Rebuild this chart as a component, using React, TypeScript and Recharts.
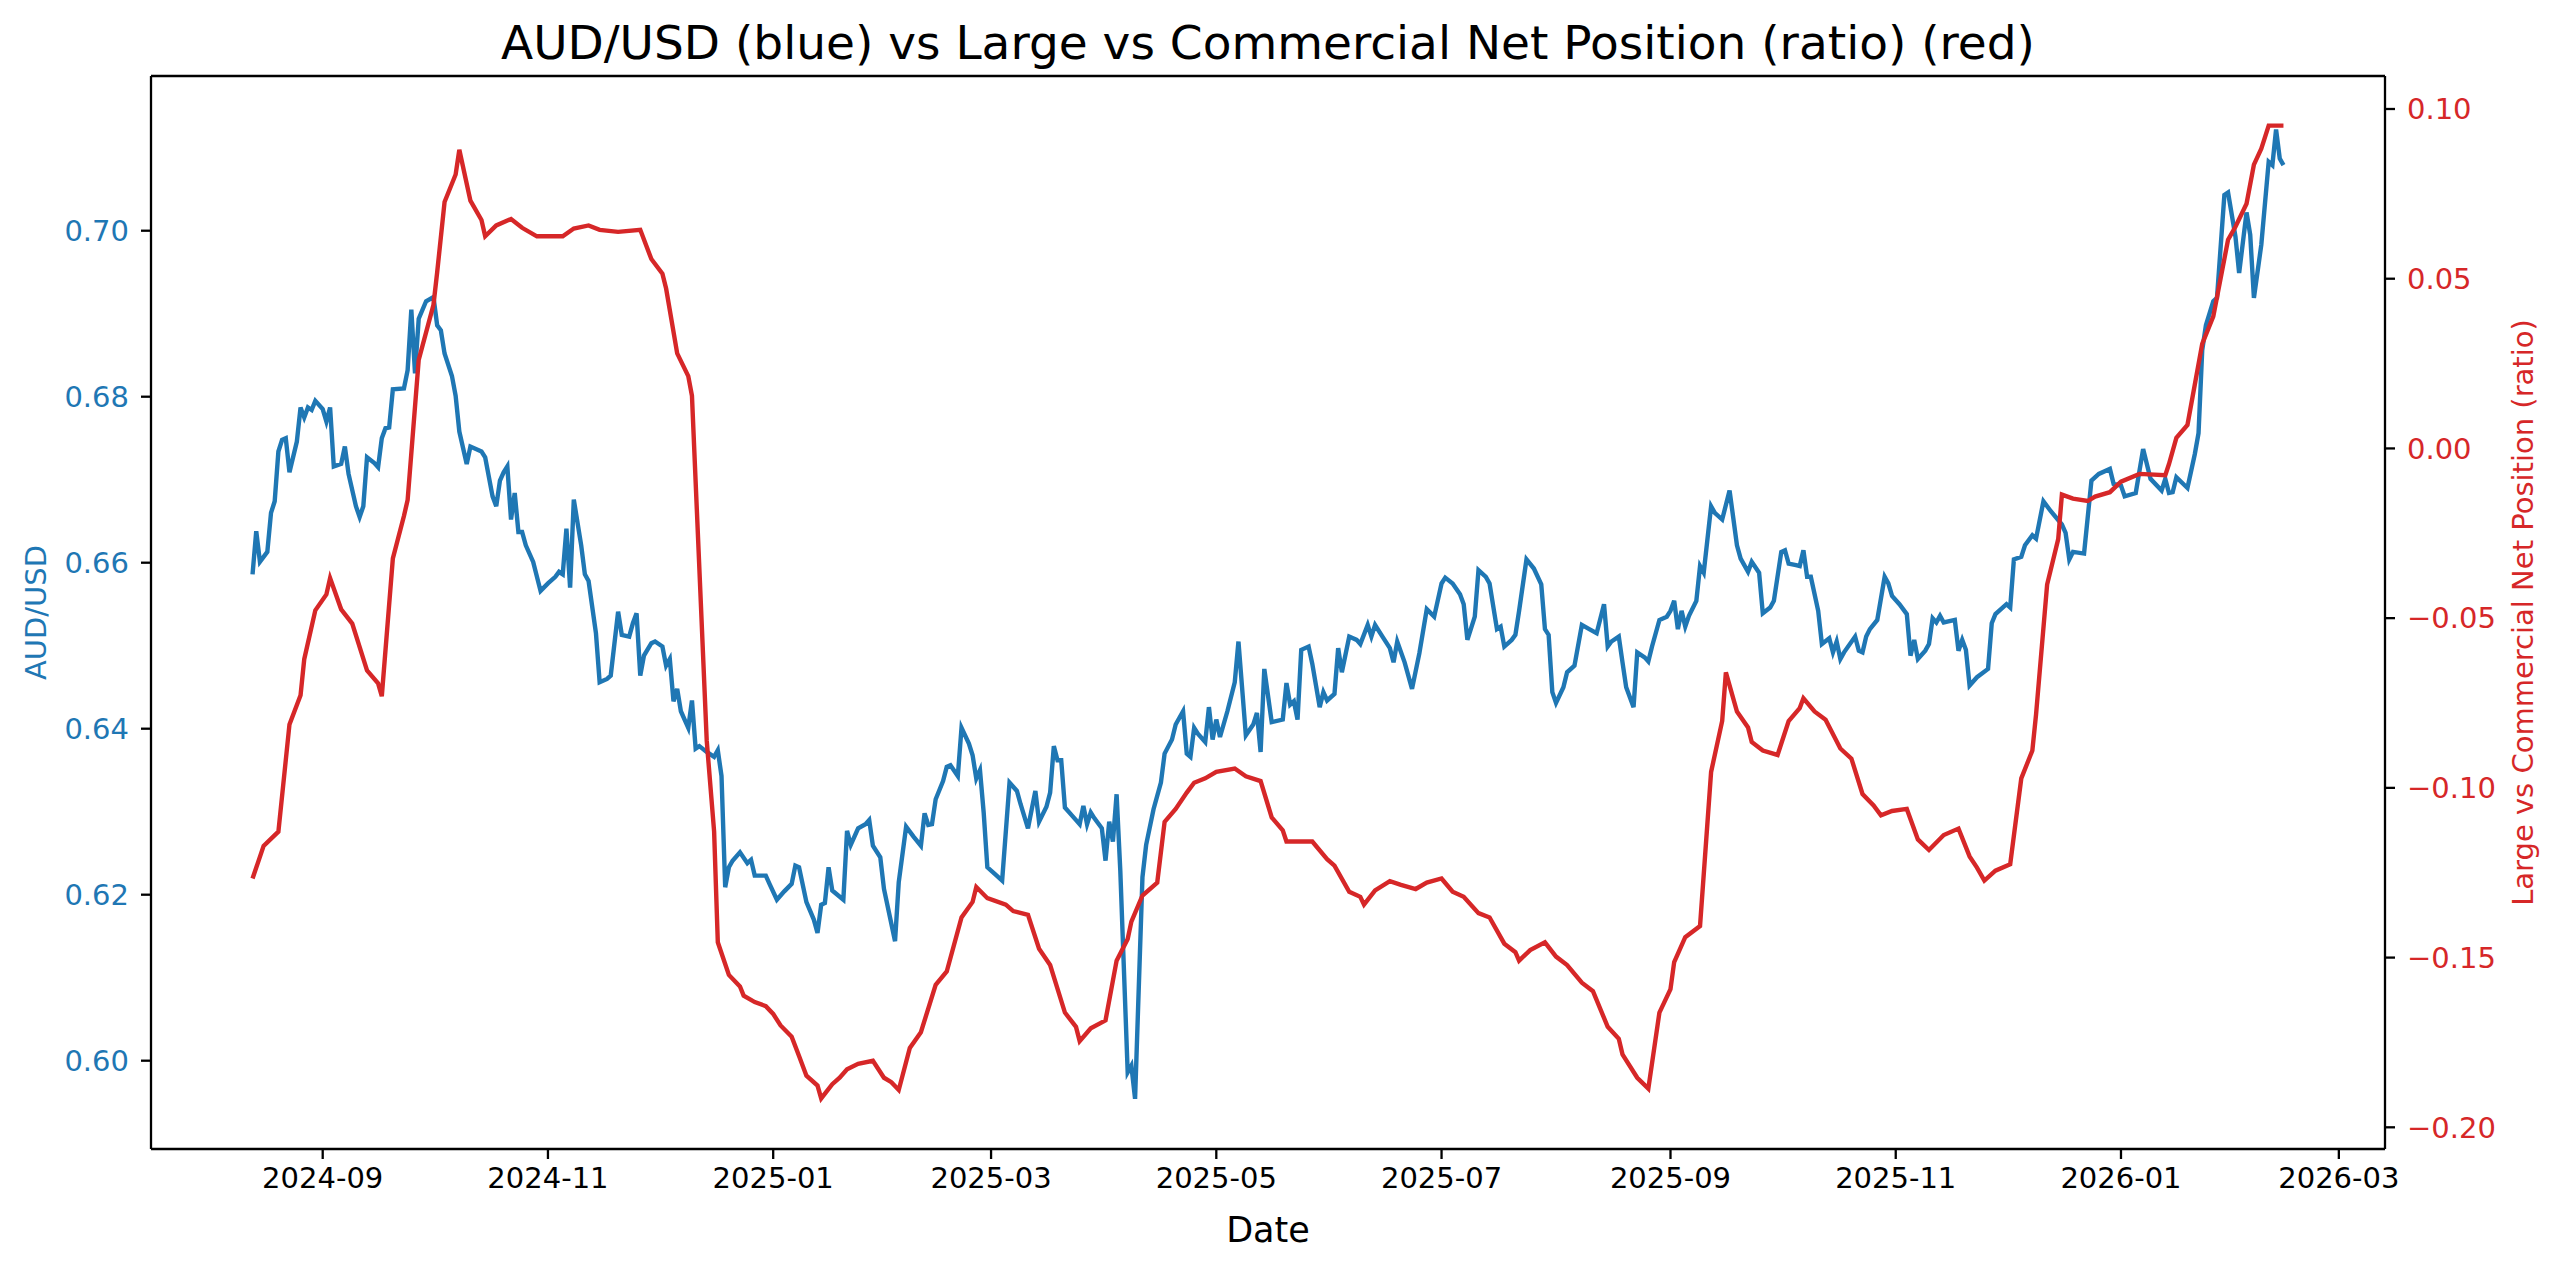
import { LineChart, Line, XAxis, YAxis, ReferenceLine } from "recharts";

// day offsets from the first observation (2024-08-13)
const BASE_DATE = "2024-08-13";

const audDays = [
  0, 1, 2, 4, 5, 6, 7, 8, 9, 10, 12, 13, 14, 15, 16, 17, 19, 20, 21, 22, 24, 25, 26, 28, 29, 30, 31, 33, 34, 35,
  36, 37, 38, 41, 42, 43, 44, 45, 47, 49, 50, 51, 52, 54, 55, 56, 58, 59, 62, 63, 65, 66, 67, 68, 69, 70, 71, 72,
  73, 74, 76, 78, 80, 82, 83, 84, 85, 86, 87, 89, 90, 91, 93, 94, 96, 97, 99, 100, 102, 103, 104, 105, 106, 108,
  109, 111, 112, 113, 114, 115, 116, 118, 119, 120, 121, 123, 125, 126, 127, 128, 129, 130, 132, 134, 135, 136,
  139, 140, 142, 144, 146, 147, 148, 150, 152, 153, 154, 155, 156, 157, 160, 161, 162, 164, 166, 167, 168, 170,
  171, 174, 175, 177, 179, 181, 182, 183, 184, 185, 187, 188, 189, 191, 192, 194, 195, 196, 197, 198, 199, 201,
  203, 205, 207, 208, 210, 212, 213, 215, 216, 217, 218, 219, 220, 222, 224, 225, 226, 227, 228, 230, 231, 232,
  233, 234, 235, 237, 238, 239, 241, 242, 244, 246, 247, 249, 250, 252, 253, 254, 255, 256, 258, 259, 260, 261,
  262, 264, 266, 267, 269, 271, 272, 273, 274, 276, 279, 280, 281, 282, 283, 284, 286, 287, 289, 290, 291, 293,
  294, 295, 297, 299, 300, 302, 303, 304, 306, 308, 309, 310, 312, 314, 316, 318, 320, 322, 323, 325, 327, 328,
  329, 331, 332, 334, 335, 337, 338, 339, 341, 342, 343, 345, 347, 349, 350, 351, 352, 353, 355, 356, 358, 360,
  362, 364, 366, 367, 368, 370, 371, 372, 374, 375, 377, 378, 379, 381, 383, 384, 385, 386, 387, 388, 389, 391,
  392, 393, 395, 396, 398, 400, 402, 403, 405, 406, 408, 409, 411, 412, 414, 415, 416, 418, 419, 420, 421, 422,
  424, 425, 427, 428, 429, 430, 431, 434, 435, 436, 437, 438, 440, 442, 443, 444, 446, 448, 449, 450, 451, 453,
  454, 455, 456, 457, 458, 461, 462, 463, 464, 465, 467, 470, 471, 472, 475, 476, 477, 479, 480, 482, 483, 485,
  487, 490, 491, 492, 493, 496, 498, 500, 503, 504, 506, 507, 510, 512, 514, 517, 518, 519, 520, 521, 524, 526,
  527, 528, 529, 531, 532, 534, 535, 537, 538, 540, 541, 542, 544, 546, 547, 548, 549, 550,
];

const audUsd = [
  0.6586, 0.6638, 0.6601, 0.6613, 0.666, 0.6674, 0.6734, 0.6748, 0.675, 0.6709, 0.6746, 0.6787, 0.6775, 0.6787,
  0.6784, 0.6795, 0.6785, 0.677, 0.6787, 0.6716, 0.6719, 0.674, 0.6707, 0.6668, 0.6655, 0.6668, 0.6727, 0.672,
  0.6715, 0.675, 0.6762, 0.6763, 0.6809, 0.681, 0.6832, 0.6905, 0.6828, 0.6894, 0.6915, 0.692, 0.6886, 0.688,
  0.6852, 0.6825, 0.6801, 0.6758, 0.6719, 0.674, 0.6734, 0.6727, 0.668, 0.6668, 0.6699, 0.6709, 0.6716, 0.6652,
  0.6684, 0.6637, 0.6637, 0.6621, 0.6601, 0.6566, 0.6575, 0.6583, 0.6589, 0.6586, 0.6641, 0.657, 0.6676, 0.6621,
  0.6586, 0.6578, 0.6515, 0.6456, 0.646, 0.6464, 0.6541, 0.6513, 0.6511, 0.6527, 0.6539, 0.6464, 0.6488, 0.6503,
  0.6505, 0.6499, 0.6476, 0.6484, 0.6433, 0.6448, 0.6421, 0.6401, 0.6434, 0.6376, 0.6379, 0.6372, 0.6366, 0.6374,
  0.6343, 0.6209, 0.6233, 0.6241, 0.6251, 0.6238, 0.6242, 0.6223, 0.6223, 0.6213, 0.6194, 0.6204, 0.6213, 0.6235,
  0.6233, 0.6191, 0.617, 0.6154, 0.6188, 0.619, 0.6233, 0.6205, 0.6194, 0.6277, 0.626, 0.628, 0.6285, 0.629,
  0.6259, 0.6245, 0.6207, 0.6144, 0.6215, 0.6282, 0.627, 0.6259, 0.6298, 0.6284, 0.6285, 0.6315, 0.6337, 0.6354,
  0.6356, 0.6343, 0.6401, 0.6382, 0.6368, 0.634, 0.635, 0.6299, 0.6233, 0.6225, 0.6217, 0.6335, 0.6325, 0.6309,
  0.628, 0.6325, 0.6288, 0.6306, 0.6323, 0.6379, 0.6362, 0.6362, 0.6305, 0.6295, 0.6285, 0.6307, 0.6285, 0.6299,
  0.6292, 0.628, 0.6241, 0.6288, 0.6264, 0.6321, 0.6229, 0.5986, 0.5994, 0.5954, 0.6221, 0.626, 0.6303, 0.6335,
  0.637, 0.6387, 0.6405, 0.6421, 0.637, 0.6366, 0.6401, 0.6394, 0.6384, 0.6426, 0.6387, 0.6411, 0.639, 0.6421,
  0.6456, 0.6505, 0.6392, 0.6405, 0.6419, 0.6372, 0.6472, 0.6408, 0.6411, 0.6455, 0.6429, 0.6433, 0.6411, 0.6495,
  0.6499, 0.6478, 0.6426, 0.6444, 0.6434, 0.6442, 0.6497, 0.6468, 0.6511, 0.6507, 0.6502, 0.6525, 0.6511, 0.6525,
  0.6511, 0.6497, 0.648, 0.6505, 0.648, 0.6448, 0.6491, 0.6544, 0.6535, 0.6575, 0.6582, 0.6575, 0.6562, 0.655,
  0.6507, 0.6535, 0.6591, 0.6583, 0.6575, 0.652, 0.6523, 0.6499, 0.6507, 0.6513, 0.6542, 0.6604, 0.6593, 0.6574,
  0.652, 0.6513, 0.6444, 0.6431, 0.645, 0.6468, 0.6476, 0.6525, 0.652, 0.6515, 0.655, 0.6499, 0.6505, 0.6511,
  0.648, 0.645, 0.6426, 0.6492, 0.6486, 0.6481, 0.6499, 0.6531, 0.6535, 0.6542, 0.6554, 0.652, 0.6542, 0.6523,
  0.6536, 0.6554, 0.6596, 0.6588, 0.6668, 0.666, 0.6652, 0.6687, 0.6621, 0.6605, 0.6589, 0.6601, 0.6588, 0.6539,
  0.6546, 0.6554, 0.6613, 0.6615, 0.6599, 0.6597, 0.6596, 0.6615, 0.6583, 0.6583, 0.6542, 0.6502, 0.6509, 0.6492,
  0.6505, 0.6484, 0.6492, 0.6511, 0.6494, 0.6492, 0.6511, 0.652, 0.6531, 0.6583, 0.6575, 0.656, 0.655, 0.6538,
  0.6488, 0.6507, 0.6484, 0.6494, 0.6502, 0.6533, 0.6528, 0.6536, 0.6528, 0.6531, 0.6494, 0.6507, 0.6495, 0.6452,
  0.6462, 0.6472, 0.6527, 0.6538, 0.655, 0.6546, 0.6604, 0.6607, 0.6621, 0.6633, 0.6629, 0.6674, 0.6662, 0.6646,
  0.6636, 0.6604, 0.6613, 0.6611, 0.6699, 0.6707, 0.6713, 0.6695, 0.6693, 0.668, 0.6684, 0.6737, 0.6701, 0.6687,
  0.6701, 0.6684, 0.6685, 0.6703, 0.669, 0.6731, 0.6756, 0.6856, 0.6886, 0.6915, 0.6919, 0.7043, 0.7046, 0.6993,
  0.6949, 0.7022, 0.6995, 0.6919, 0.6983, 0.7083, 0.7079, 0.7122, 0.7087, 0.7079,
];

const cotDays = [
  0, 3, 7, 10, 13, 14, 17, 20, 21, 24, 27, 31, 34, 35, 38, 41, 42, 45, 49, 50, 52, 55, 56, 59, 62, 63, 66, 70, 73,
  77, 84, 87, 91, 94, 99, 105, 108, 111, 112, 115, 118, 119, 123, 125, 126, 129, 132, 133, 136, 139, 141, 143, 146,
  148, 150, 153, 154, 157, 159, 161, 164, 168, 171, 173, 175, 178, 181, 185, 188, 192, 195, 196, 199, 204, 206,
  210, 213, 216, 220, 223, 224, 227, 231, 234, 237, 238, 241, 245, 247, 250, 253, 255, 258, 261, 266, 269, 273,
  276, 279, 280, 287, 291, 293, 297, 300, 301, 304, 308, 311, 315, 318, 322, 325, 328, 332, 335, 339, 342, 343,
  346, 350, 353, 356, 360, 363, 367, 370, 371, 375, 378, 381, 384, 385, 388, 392, 395, 398, 399, 402, 405, 406,
  409, 413, 416, 419, 420, 423, 426, 430, 433, 436, 439, 441, 444, 448, 451, 454, 458, 462, 465, 467, 469, 472,
  476, 479, 482, 483, 486, 489, 490, 493, 497, 499, 503, 506, 511, 518, 519, 521, 524, 528, 531, 535, 537, 540,
  542, 544, 546, 550,
];

const cotRatio = [
  -0.1267, -0.1171, -0.1129, -0.0813, -0.0727, -0.0621, -0.0477, -0.043, -0.0382, -0.0474, -0.0516, -0.0654,
  -0.0692, -0.073, -0.0324, -0.0199, -0.0152, 0.0261, 0.0423, 0.0519, 0.0726, 0.0807, 0.088, 0.073, 0.0673,
  0.0625, 0.0657, 0.0676, 0.065, 0.0625, 0.0625, 0.0648, 0.0657, 0.0644, 0.0638, 0.0644, 0.0558, 0.0515, 0.0471,
  0.028, 0.0213, 0.0155, -0.0861, -0.1129, -0.1455, -0.1551, -0.1585, -0.1612, -0.1631, -0.1643, -0.1666, -0.17,
  -0.1733, -0.179, -0.1848, -0.1877, -0.1915, -0.1873, -0.1854, -0.1829, -0.1813, -0.1804, -0.1854, -0.1867,
  -0.189, -0.1766, -0.172, -0.158, -0.1541, -0.1382, -0.1336, -0.1292, -0.1325, -0.1344, -0.1363, -0.1374, -0.1474,
  -0.1522, -0.1662, -0.1704, -0.1746, -0.1708, -0.1685, -0.1509, -0.1445, -0.1394, -0.1317, -0.1279, -0.11,
  -0.1062, -0.1014, -0.0985, -0.0972, -0.0953, -0.0943, -0.0966, -0.098, -0.1087, -0.1125, -0.1158, -0.1158,
  -0.121, -0.1229, -0.1306, -0.1321, -0.1344, -0.1302, -0.1275, -0.1286, -0.1298, -0.1279, -0.1267, -0.1306,
  -0.1321, -0.1369, -0.1382, -0.1459, -0.1484, -0.1509, -0.1478, -0.1455, -0.1497, -0.1522, -0.1574, -0.1599,
  -0.1704, -0.1739, -0.1785, -0.1854, -0.1886, -0.1662, -0.1593, -0.1513, -0.144, -0.1407, -0.0953, -0.0803,
  -0.066, -0.0775, -0.0822, -0.0865, -0.089, -0.0903, -0.0803, -0.0765, -0.0736, -0.0775, -0.0799, -0.0884,
  -0.0914, -0.1018, -0.1052, -0.1081, -0.1068, -0.1062, -0.1152, -0.1183, -0.1139, -0.112, -0.1202, -0.1235,
  -0.1273, -0.1244, -0.1225, -0.0972, -0.089, -0.0784, -0.0401, -0.0267, -0.0136, -0.0148, -0.0155, -0.0142,
  -0.0129, -0.0098, -0.0075, -0.0079, -0.0046, 0.0031, 0.0069, 0.0308, 0.0389, 0.0615, 0.0653, 0.0721, 0.0836,
  0.0883, 0.0951, 0.0951,
];

const monthTicks = [
  "2024-09", "2024-11", "2025-01", "2025-03", "2025-05", "2025-07", "2025-09", "2025-11", "2026-01", "2026-03",
];
const audTicks = [0.6, 0.62, 0.64, 0.66, 0.68, 0.7];
const cotTicks = [-0.2, -0.15, -0.1, -0.05, 0.0, 0.05, 0.1];

const audDomain = [0.58936, 0.71864];
const cotDomain = [-0.20639, 0.10972];

const BLUE = "#1f77b4";
const RED = "#d62728";
const FONT = "DejaVu Sans";
const DAY_MS = 86400000;

const baseMs = Date.parse(BASE_DATE + "T00:00:00Z");
const monthOffset = (m: string) => {
  const [y, mo] = m.split("-").map(Number);
  return (Date.UTC(y, mo - 1, 1) - baseMs) / DAY_MS;
};
const tickDays = monthTicks.map(monthOffset);
const tickLabel = (d: number) => {
  const idx = tickDays.indexOf(d);
  return idx >= 0 ? monthTicks[idx] : "";
};

const first = audDays[0];
const last = audDays[audDays.length - 1];
const span = last - first;
const xDomain = [first - 0.05 * span, last + 0.05 * span];

const audData = audDays.map((d, i) => ({ day: d, value: audUsd[i] }));
const cotData = cotDays.map((d, i) => ({ day: d, value: cotRatio[i] }));

const minus = (v: number) => (v < 0 ? "\u2212" + Math.abs(v).toFixed(2) : v.toFixed(2));

const W = 2560;
const H = 1268;
const LEFT_W = 151;
const RIGHT_W = 175;
const TOP = 76;
const X_H = 119;
const plotCx = (LEFT_W + (W - RIGHT_W)) / 2;
const plotCy = (TOP + (H - X_H)) / 2;

export default function App() {
  return (
    <div style={{ position: "absolute", left: 0, top: 0, width: W, height: H, background: "#fff" }}>
      <LineChart width={W} height={H} margin={{ top: TOP, right: 0, bottom: 0, left: 0 }}>
        <XAxis
          xAxisId="date"
          type="number"
          dataKey="day"
          domain={xDomain}
          allowDataOverflow
          ticks={tickDays}
          interval={0}
          tickFormatter={tickLabel}
          height={X_H}
          tickSize={10}
          tickMargin={8}
          tick={{ fontSize: 29, fill: "#000", fontFamily: FONT }}
          tickLine={{ stroke: "#000", strokeWidth: 2.3 }}
          axisLine={{ stroke: "#000", strokeWidth: 2.3 }}
        />
        <YAxis
          yAxisId="aud"
          orientation="left"
          width={LEFT_W}
          domain={audDomain}
          allowDataOverflow
          ticks={audTicks}
          interval={0}
          tickFormatter={(v: number) => v.toFixed(2)}
          tickSize={10}
          tickMargin={12}
          tick={{ fontSize: 29, fill: BLUE, fontFamily: FONT }}
          tickLine={{ stroke: "#000", strokeWidth: 2.3 }}
          axisLine={{ stroke: "#000", strokeWidth: 2.3 }}
        />
        <YAxis
          yAxisId="cot"
          orientation="right"
          width={RIGHT_W}
          domain={cotDomain}
          allowDataOverflow
          ticks={cotTicks}
          interval={0}
          tickFormatter={minus}
          tickSize={10}
          tickMargin={12}
          tick={{ fontSize: 29, fill: RED, fontFamily: FONT }}
          tickLine={{ stroke: "#000", strokeWidth: 2.3 }}
          axisLine={{ stroke: "#000", strokeWidth: 2.3 }}
        />
        <ReferenceLine
          xAxisId="date"
          yAxisId="aud"
          y={audDomain[1]}
          stroke="#000"
          strokeWidth={2.3}
        />
        <Line
          xAxisId="date"
          yAxisId="aud"
          data={audData}
          dataKey="value"
          type="linear"
          stroke={BLUE}
          strokeWidth={4.4}
          dot={false}
          isAnimationActive={false}
        />
        <Line
          xAxisId="date"
          yAxisId="cot"
          data={cotData}
          dataKey="value"
          type="linear"
          stroke={RED}
          strokeWidth={4.4}
          dot={false}
          isAnimationActive={false}
        />
      </LineChart>
      <svg
        width={W}
        height={H}
        style={{ position: "absolute", left: 0, top: 0, pointerEvents: "none" }}
      >
        <text x={plotCx} y={59} textAnchor="middle" fontSize={47} fontFamily={FONT} fill="#000">
          AUD/USD (blue) vs Large vs Commercial Net Position (ratio) (red)
        </text>
        <text x={plotCx} y={1242} textAnchor="middle" fontSize={35} fontFamily={FONT} fill="#000">
          Date
        </text>
        <text
          x={36}
          y={plotCy}
          textAnchor="middle"
          dominantBaseline="central"
          fontSize={29}
          fontFamily={FONT}
          fill={BLUE}
          transform={`rotate(-90 36 ${plotCy})`}
        >
          AUD/USD
        </text>
        <text
          x={2523}
          y={plotCy}
          textAnchor="middle"
          dominantBaseline="central"
          fontSize={29}
          fontFamily={FONT}
          fill={RED}
          transform={`rotate(-90 2523 ${plotCy})`}
        >
          Large vs Commercial Net Position (ratio)
        </text>
      </svg>
    </div>
  );
}
